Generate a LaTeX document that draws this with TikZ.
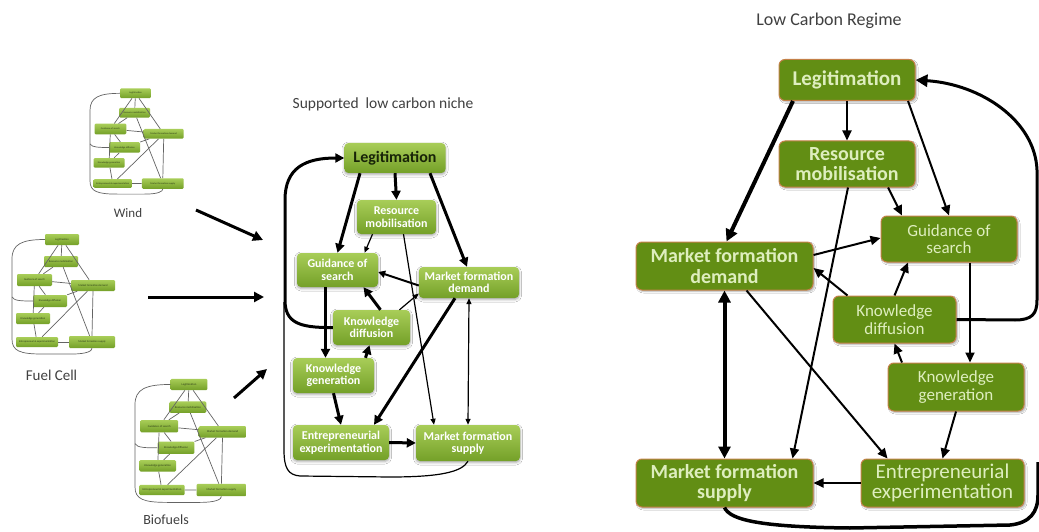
\documentclass[tikz,border=0pt]{standalone}
\usepackage{fontspec}
\setmainfont{Carlito}
\usetikzlibrary{arrows.meta,shadows.blur,calc}

\definecolor{titlegray}{RGB}{64,64,64}
\definecolor{nichetop}{RGB}{168,205,88}
\definecolor{nichebot}{RGB}{116,160,40}
\definecolor{legtext}{RGB}{24,36,8}
\definecolor{regimefill}{RGB}{98,142,20}
\definecolor{regimeedge}{RGB}{196,128,72}
\definecolor{regimetext}{RGB}{222,238,190}
\definecolor{thumbline}{RGB}{100,100,100}
\definecolor{thumbtext}{RGB}{45,60,25}

\tikzset{
  nichebox/.style={rectangle, rounded corners=4pt, top color=nichetop,
    bottom color=nichebot, draw=none, text=white, align=center, inner sep=0pt,
    font=\fontsize{12}{12.5}\selectfont\bfseries,
    blur shadow={shadow xshift=0pt, shadow yshift=-1.5pt,
      shadow blur radius=2.5pt, shadow opacity=35}},
  regimebox/.style={rectangle, rounded corners=6pt, fill=regimefill,
    draw=regimeedge, line width=1pt, text=regimetext, align=center, inner sep=0pt,
    blur shadow={shadow xshift=1.5pt, shadow yshift=-1.5pt,
      shadow blur radius=1.5pt, shadow opacity=30}},
  rbold/.style={font=\fontsize{20}{20.5}\selectfont\bfseries},
  rplain/.style={font=\fontsize{17}{17.5}\selectfont},
  thumbbox/.style={rectangle, rounded corners=1.2pt, top color=nichetop,
    bottom color=nichebot, draw=none, text=thumbtext, inner sep=0pt,
    font=\fontsize{2.7}{2.9}\selectfont, transform shape},
  thumbedge/.style={draw=thumbline, line width=0.7pt},
  nthick/.style={line width=3pt, -{Triangle[length=9pt,width=9pt]}},
  nmed/.style={line width=2pt, -{Triangle[length=7pt,width=7pt]}},
  nthin/.style={line width=1.2pt, -{Triangle[length=6pt,width=5pt]}},
  nthinboth/.style={line width=1.2pt, {Triangle[length=6pt,width=5pt]}-{Triangle[length=6pt,width=5pt]}},
  rmed/.style={line width=2pt, -{Triangle[length=10pt,width=9pt]}},
  rthick/.style={line width=4pt, -{Triangle[length=12pt,width=12pt]}},
  rthickboth/.style={line width=4pt, {Triangle[length=12pt,width=12pt]}-{Triangle[length=12pt,width=12pt]}},
  feed/.style={line width=3pt, -{Triangle[length=10pt,width=10pt]}},
  caption/.style={text=titlegray, inner sep=0pt},
}

% miniature copy of the niche system, in local units
\newcommand{\nichethumb}[1]{%
  \node[thumbbox, minimum width=34pt, minimum height=11pt] (#1leg) at (50,5.5) {Legitimation};
  \node[thumbbox, minimum width=34pt, minimum height=11pt] (#1res) at (49,27.5) {Resource mobilisation};
  \node[thumbbox, minimum width=35pt, minimum height=12pt] (#1gui) at (22.5,46) {Guidance of search};
  \node[thumbbox, minimum width=44pt, minimum height=11pt] (#1dem) at (81,51.5) {Market formation demand};
  \node[thumbbox, minimum width=34pt, minimum height=12pt] (#1dif) at (38,67) {Knowledge diffusion};
  \node[thumbbox, minimum width=34pt, minimum height=11pt] (#1gen) at (21,84.5) {Knowledge generation};
  \node[thumbbox, minimum width=42pt, minimum height=10pt] (#1ent) at (25,108) {Entrepreneurial experimentation};
  \node[thumbbox, minimum width=46pt, minimum height=12pt] (#1sup) at (80,108) {Market formation supply};
  \draw[thumbedge] (#1leg) -- (#1gui);
  \draw[thumbedge] (#1leg) -- (#1res);
  \draw[thumbedge] (#1leg) -- (#1dem);
  \draw[thumbedge] (#1res) -- (#1gui);
  \draw[thumbedge] (#1res) -- (#1sup);
  \draw[thumbedge] (#1dem) -- (#1gui);
  \draw[thumbedge] (#1dif) -- (#1gui);
  \draw[thumbedge] (#1dif) -- (#1dem);
  \draw[thumbedge] (#1dem) -- (#1ent);
  \draw[thumbedge] (#1dem.south) -- (#1sup.north);
  \draw[thumbedge] (#1gui) -- (#1gen);
  \draw[thumbedge] (#1gen) -- (#1dif);
  \draw[thumbedge] (#1gen) -- (#1ent);
  \draw[thumbedge] (#1ent) -- (#1sup);
  \draw[thumbedge] (#1leg.west) .. controls (10,5.5) and (0,10) .. (0,25) -- (0,105)
     .. controls (0,117) and (8,120) .. (30,120) -- (60,120)
     .. controls (75,120) and (80,117) .. (#1sup.south);
  \draw[thumbedge] (#1dif.west) .. controls (10,67) and (2,67) .. (0,63);
}

\begin{document}
\begin{tikzpicture}[x=1pt, y=-1pt]
  \useasboundingbox (0,0) rectangle (1039,532);
  \fill[white] (0,0) rectangle (1039,532);

  % ---------- three technology miniatures ----------
  \begin{scope}[shift={(90,88.5)}, xscale=0.91, yscale=0.88]
    \nichethumb{w}
  \end{scope}
  \begin{scope}[shift={(12,234)}]
    \nichethumb{f}
  \end{scope}
  \begin{scope}[shift={(135,378.8)}, xscale=1.08, yscale=1.03]
    \nichethumb{b}
  \end{scope}

  \node[caption, font=\fontsize{13}{13}\selectfont] (capWind) at (128,213) {Wind};
  \node[caption, font=\fontsize{15}{15}\selectfont] (capFuel) at (51.5,375) {Fuel Cell};
  \node[caption, font=\fontsize{14}{14}\selectfont] (capBio) at (166,520) {Biofuels};

  % arrows feeding the niche
  \coordinate (wOut) at (196,210);
  \coordinate (fOut) at (148,297);
  \coordinate (bOut) at (234,398);
  \coordinate (wIn) at (263,240);
  \coordinate (fIn) at (264,297);
  \coordinate (bIn) at (267,369);
  \draw[feed] (wOut) -- (wIn);
  \draw[feed] (fOut) -- (fIn);
  \draw[feed] (bOut) -- (bIn);

  % ---------- supported low carbon niche ----------
  \node[caption, font=\fontsize{15.5}{15.5}\selectfont] (tNiche) at (383,104) {Supported\ \ low carbon niche};

  \node[nichebox, minimum width=101pt, minimum height=30pt, text=legtext,
        font=\fontsize{16}{17}\selectfont\bfseries] (mLeg) at (395,158) {Legitimation};
  \node[nichebox, minimum width=79pt, minimum height=34pt] (mRes) at (396.5,217) {Resource\\mobilisation};
  \node[nichebox, minimum width=81pt, minimum height=34pt] (mGui) at (337.5,270) {Guidance of\\search};
  \node[nichebox, minimum width=100pt, minimum height=31pt] (mDem) at (469,282.5) {Market formation\\demand};
  \node[nichebox, minimum width=77pt, minimum height=35pt] (mDif) at (371.5,327.5) {Knowledge\\diffusion};
  \node[nichebox, minimum width=81pt, minimum height=35pt] (mGen) at (333.5,375.5) {Knowledge\\generation};
  \node[nichebox, minimum width=96pt, minimum height=35pt] (mEnt) at (341,442.5) {Entrepreneurial\\experimentation};
  \node[nichebox, minimum width=104pt, minimum height=36pt] (mSup) at (468,443) {Market formation\\supply};

  \draw[nthick] ($(mLeg.south)+(-35,0)$) -- (mGui.north);
  \draw[nthick] (mLeg.south) -- (mRes.north);
  \draw[nthick] ($(mLeg.south)+(35,0)$) -- ($(mDem.north)+(-2,0)$);
  \draw[nthin] ($(mRes.south)+(-24,0)$) -- ($(mGui.north)+(27,0)$);
  \draw[nmed] ($(mDem.west)+(0,3)$) -- ($(mGui.east)+(0,2)$);
  \draw[nthick] ($(mDif.north)+(9,0)$) -- ($(mGui.south)+(26,0)$);
  \draw[nthin] ($(mDif.north)+(28,0)$) -- ($(mDem.west)+(0,11)$);
  \draw[nthin] ($(mRes.south)+(7,0)$) -- ($(mSup.north)+(-34,0)$);
  \draw[nthick] ($(mDem.south)+(-14,0)$) -- ($(mEnt.north)+(33,0)$);
  \draw[nthinboth] (mDem.south) -- (mSup.north);
  \draw[nthick] ($(mGui.south)+(-12,0)$) -- ($(mGen.north)+(-8,0)$);
  \draw[nthick] ($(mGen.north)+(32,0)$) -- ($(mDif.south)+(-2,0)$);
  \draw[nthick] (mGen.south) -- (mEnt.north);
  \draw[nthick] (mEnt.east) -- (mSup.west);
  \draw[nthick] (mDif.west) .. controls (298,328) and (285,322) .. (285,300)
      -- (285,200) .. controls (285,168) and (305,158) .. (mLeg.west);
  \coordinate (mLoopEnd) at (284,302);
  \draw[line width=1.2pt] (mSup.south) .. controls (462,472) and (440,477) .. (390,477)
      -- (300,476) .. controls (288,475) and (284,468) .. (284,450) -- (mLoopEnd);

  % ---------- low carbon regime ----------
  \node[caption, font=\fontsize{18}{18}\selectfont] (tRegime) at (829,21) {Low Carbon Regime};

  \node[regimebox, rbold, font=\fontsize{21}{21}\selectfont\bfseries,
        minimum width=136pt, minimum height=41pt] (rLeg) at (847,80) {Legitimation};
  \node[regimebox, rbold, minimum width=136pt, minimum height=46pt] (rRes) at (847,164) {Resource\\mobilisation};
  \node[regimebox, rplain, minimum width=136pt, minimum height=46pt] (rGui) at (949,239) {Guidance of\\search};
  \node[regimebox, rbold, minimum width=177pt, minimum height=48pt] (rDem) at (724.5,266) {Market formation\\demand};
  \node[regimebox, rplain, minimum width=123pt, minimum height=47pt] (rDif) at (894.5,319.5) {Knowledge\\diffusion};
  \node[regimebox, rplain, minimum width=136pt, minimum height=48pt] (rGen) at (956,387) {Knowledge\\generation};
  \node[regimebox, rbold, minimum width=177pt, minimum height=48pt] (rSup) at (724.5,483) {Market formation\\supply};
  \node[regimebox, font=\fontsize{21}{20.5}\selectfont,
        minimum width=163pt, minimum height=48pt] (rEnt) at (942.5,483) {Entrepreneurial\\experimentation};

  \draw[rthick] ($(rLeg.south)+(-54,0)$) -- ($(rDem.north)+(2,0)$);
  \draw[rmed] (rLeg.south) -- (rRes.north);
  \draw[rmed] ($(rLeg.south)+(61,0)$) -- (rGui.north);
  \draw[rmed] ($(rRes.south)+(41,0)$) -- ($(rGui.north)+(-47,0)$);
  \draw[rmed] ($(rRes.south)+(1,0)$) -- ($(rSup.north)+(68,0)$);
  \draw[rmed] ($(rDem.east)+(0,-11)$) -- ($(rGui.west)+(0,-1)$);
  \draw[rmed] ($(rDif.north)+(-47,0)$) -- ($(rDem.east)+(0,2)$);
  \draw[rmed] (rDif.north) -- ($(rGui.south)+(-41,0)$);
  \draw[rmed] ($(rGui.south)+(21,0)$) -- ($(rGen.north)+(14,0)$);
  \draw[rmed] ($(rGen.north)+(-54,0)$) -- (rDif.south);
  \draw[rmed] ($(rDem.south)+(22,0)$) -- ($(rEnt.north)+(-55,0)$);
  \draw[rmed] (rGen.south) -- (rEnt.north);
  \draw[rmed] (rEnt.west) -- (rSup.east);
  \draw[rthickboth] (rDem.south) -- (rSup.north);
  \draw[line width=3pt, -{Triangle[length=12pt,width=12pt]}]
      (rDif.east) -- (1015,320) .. controls (1032,320) and (1037,314) .. (1037,300)
      -- (1037,170) .. controls (1035,120) and (980,84) .. (rLeg.east);
  \coordinate (rLoopEnd) at (1038,462);
  \draw[line width=3.5pt] (rSup.south) .. controls (730,520) and (760,527) .. (850,528)
      -- (1010,525) .. controls (1030,523) and (1038,512) .. (1038,495) -- (rLoopEnd);
\end{tikzpicture}
\end{document}
